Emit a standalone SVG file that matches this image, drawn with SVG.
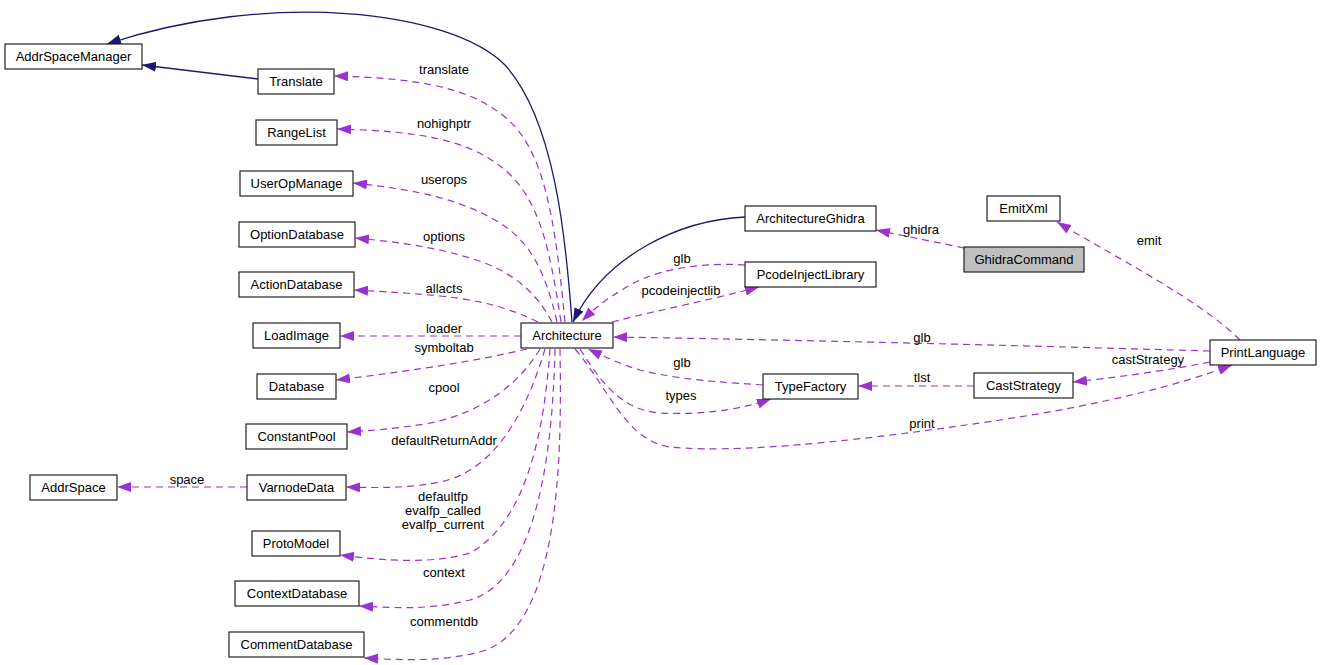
<svg xmlns="http://www.w3.org/2000/svg" width="1321" height="665" viewBox="0 0 1321 665">
<style>
.n rect{fill:#fff;stroke:#222;stroke-width:1.2}
.n text,.l{font-family:"Liberation Sans",Arial,sans-serif;font-size:13px;fill:#000}
.n text{text-anchor:middle}
.l{text-anchor:middle}
.b{fill:none;stroke:#191970;stroke-width:1.3;marker-end:url(#ab)}
.d{fill:none;stroke:#9a32cd;stroke-width:1.2;stroke-dasharray:7,5;marker-end:url(#ad)}
</style>
<defs>
<marker id="ab" markerUnits="userSpaceOnUse" markerWidth="15" markerHeight="11" refX="14" refY="5" orient="auto"><path d="M0,0 L14,5 L0,10 z" fill="#191970"/></marker>
<marker id="ad" markerUnits="userSpaceOnUse" markerWidth="15" markerHeight="11" refX="14" refY="5" orient="auto"><path d="M0,0 L14,5 L0,10 z" fill="#9a32cd"/></marker>
</defs>
<g id="edges">
<path class="b" d="M572,322 C566,240 555,120 505,65 C450,10 270,-10 107,44"/>
<path class="b" d="M258,79 L142,65"/>
<path class="b" d="M745,217 C680,220 605,255 573,322"/>
<path class="d" d="M565,322 C555,220 545,150 505,117 C470,88 420,78 334,76"/>
<path class="d" d="M561,322 C550,250 540,200 505,170 C470,140 420,131 337,129"/>
<path class="d" d="M557,322 C545,270 530,240 495,220 C460,200 420,190 353,183"/>
<path class="d" d="M552,322 C535,290 510,270 470,258 C440,249 410,243 355,238"/>
<path class="d" d="M538,322 C510,308 480,300 440,296 C410,293 390,292 354,290"/>
<path class="d" d="M521,336 L340,336"/>
<path class="d" d="M527,349 C480,360 420,370 336,380"/>
<path class="d" d="M540,349 C515,390 475,415 425,424 C400,428 380,430 347,432"/>
<path class="d" d="M545,349 C530,400 500,470 440,482 C410,488 380,488 346,487"/>
<path class="d" d="M550,349 C545,420 530,520 470,553 C430,565 380,560 340,555"/>
<path class="d" d="M555,349 C553,440 540,580 470,600 C430,610 400,608 359,606"/>
<path class="d" d="M560,349 C562,460 560,630 480,652 C440,662 400,660 364,658"/>
<path class="d" d="M247,487 L117,487"/>
<path class="d" d="M612,322 C650,312 710,300 759,287"/>
<path class="d" d="M745,265 C700,262 650,270 622,290 C605,300 595,308 582,321"/>
<path class="d" d="M763,385 C720,382 680,380 640,370 C620,364 605,357 588,349"/>
<path class="d" d="M580,349 C600,380 620,410 660,413 C700,415 740,410 771,399"/>
<path class="d" d="M575,349 C610,390 625,440 670,447 C750,455 900,435 1000,420 C1100,405 1180,385 1232,365"/>
<path class="d" d="M1210,351 C1000,345 800,340 613,337"/>
<path class="d" d="M974,386 L858,386"/>
<path class="d" d="M1210,362 C1170,370 1120,377 1073,382"/>
<path class="d" d="M1240,340 C1200,300 1120,260 1057,222"/>
<path class="d" d="M964,248 C940,243 910,237 876,230"/>
</g>
<g id="labels">
<text class="l" x="444" y="74">translate</text>
<text class="l" x="444" y="128">nohighptr</text>
<text class="l" x="444" y="184">userops</text>
<text class="l" x="444" y="241">options</text>
<text class="l" x="444" y="293">allacts</text>
<text class="l" x="444" y="333">loader</text>
<text class="l" x="444" y="352">symboltab</text>
<text class="l" x="444" y="392">cpool</text>
<text class="l" x="444" y="445">defaultReturnAddr</text>
<text class="l" x="443" y="501">defaultfp</text>
<text class="l" x="443" y="515">evalfp_called</text>
<text class="l" x="443" y="529">evalfp_current</text>
<text class="l" x="444" y="577">context</text>
<text class="l" x="444" y="626">commentdb</text>
<text class="l" x="187" y="484">space</text>
<text class="l" x="682" y="263">glb</text>
<text class="l" x="681" y="295">pcodeinjectlib</text>
<text class="l" x="682" y="367">glb</text>
<text class="l" x="681" y="400">types</text>
<text class="l" x="922" y="342">glb</text>
<text class="l" x="922" y="382">tlst</text>
<text class="l" x="922" y="428">print</text>
<text class="l" x="1148" y="364">castStrategy</text>
<text class="l" x="1149" y="245">emit</text>
<text class="l" x="921" y="234">ghidra</text>
</g>
<g id="AddrSpaceManager" class="n"><rect x="5" y="44" width="137" height="25"/><text x="73.5" y="61">AddrSpaceManager</text></g>
<g id="Translate" class="n"><rect x="258" y="69" width="76" height="25"/><text x="296" y="86">Translate</text></g>
<g id="RangeList" class="n"><rect x="256" y="120" width="81" height="25"/><text x="296.5" y="137">RangeList</text></g>
<g id="UserOpManage" class="n"><rect x="240" y="171" width="113" height="25"/><text x="296.5" y="188">UserOpManage</text></g>
<g id="OptionDatabase" class="n"><rect x="239" y="222" width="116" height="25"/><text x="297" y="239">OptionDatabase</text></g>
<g id="ActionDatabase" class="n"><rect x="239" y="272" width="115" height="25"/><text x="296.5" y="289">ActionDatabase</text></g>
<g id="LoadImage" class="n"><rect x="253" y="323" width="87" height="25"/><text x="296.5" y="340">LoadImage</text></g>
<g id="Database" class="n"><rect x="257" y="374" width="79" height="25"/><text x="296.5" y="391">Database</text></g>
<g id="ConstantPool" class="n"><rect x="246" y="424" width="101" height="25"/><text x="296.5" y="441">ConstantPool</text></g>
<g id="AddrSpace" class="n"><rect x="30" y="475" width="87" height="25"/><text x="73.5" y="492">AddrSpace</text></g>
<g id="VarnodeData" class="n"><rect x="247" y="475" width="99" height="25"/><text x="296.5" y="492">VarnodeData</text></g>
<g id="ProtoModel" class="n"><rect x="252" y="531" width="88" height="25"/><text x="296" y="548">ProtoModel</text></g>
<g id="ContextDatabase" class="n"><rect x="235" y="581" width="124" height="25"/><text x="297" y="598">ContextDatabase</text></g>
<g id="CommentDatabase" class="n"><rect x="229" y="632" width="135" height="25"/><text x="296.5" y="649">CommentDatabase</text></g>
<g id="Architecture" class="n"><rect x="521" y="323" width="92" height="25"/><text x="567" y="340">Architecture</text></g>
<g id="ArchitectureGhidra" class="n"><rect x="745" y="206" width="131" height="25"/><text x="810.5" y="223">ArchitectureGhidra</text></g>
<g id="PcodeInjectLibrary" class="n"><rect x="745" y="262" width="131" height="25"/><text x="810.5" y="279">PcodeInjectLibrary</text></g>
<g id="TypeFactory" class="n"><rect x="763" y="374" width="95" height="25"/><text x="810.5" y="391">TypeFactory</text></g>
<g id="EmitXml" class="n"><rect x="987" y="196" width="73" height="25"/><text x="1023.5" y="213">EmitXml</text></g>
<g id="GhidraCommand" class="n"><rect x="964" y="247" width="120" height="25" style="fill:#bfbfbf"/><text x="1024" y="264">GhidraCommand</text></g>
<g id="CastStrategy" class="n"><rect x="974" y="373" width="99" height="25"/><text x="1023.5" y="390">CastStrategy</text></g>
<g id="PrintLanguage" class="n"><rect x="1210" y="340" width="106" height="25"/><text x="1263" y="357">PrintLanguage</text></g>
</svg>
